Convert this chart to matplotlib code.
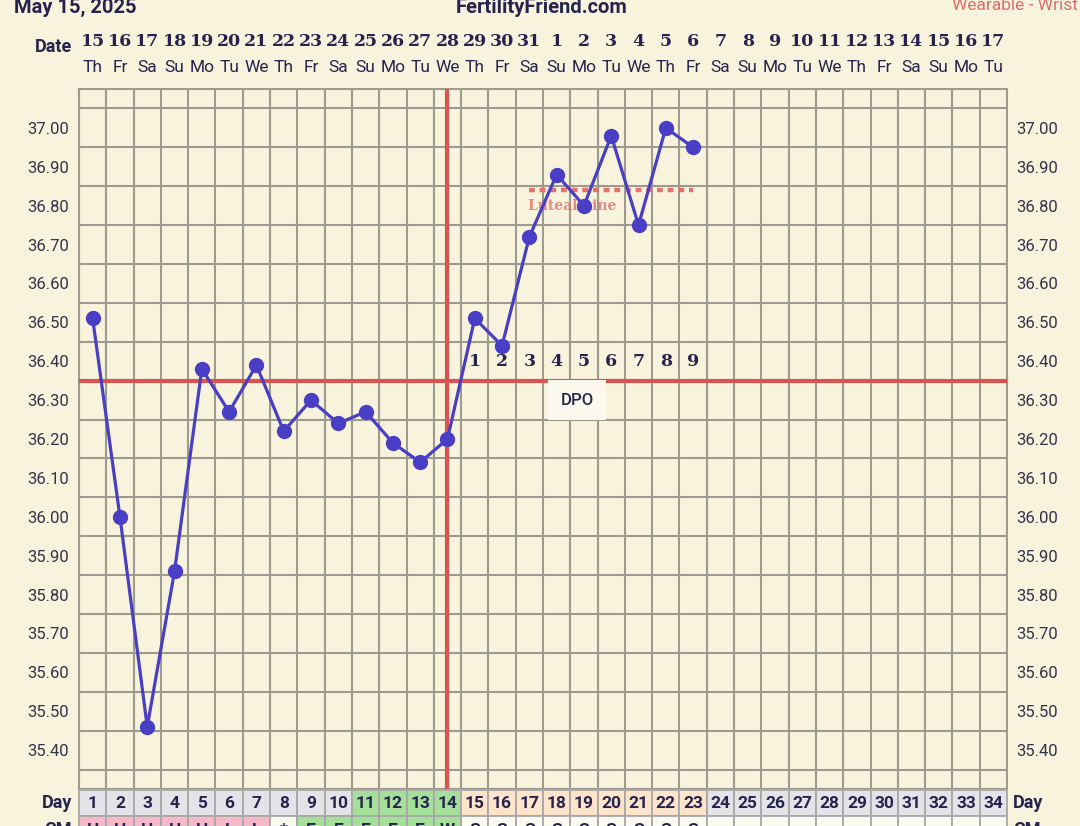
import numpy as np
import matplotlib.pyplot as plt
from matplotlib.transforms import blended_transform_factory
from matplotlib.patches import Rectangle

# chart data
cycle_days = list(range(1, 35))
dates = [15, 16, 17, 18, 19, 20, 21, 22, 23, 24, 25, 26, 27, 28, 29, 30, 31,
         1, 2, 3, 4, 5, 6, 7, 8, 9, 10, 11, 12, 13, 14, 15, 16, 17]
weekdays = ['Th', 'Fr', 'Sa', 'Su', 'Mo', 'Tu', 'We', 'Th', 'Fr', 'Sa', 'Su', 'Mo',
            'Tu', 'We', 'Th', 'Fr', 'Sa', 'Su', 'Mo', 'Tu', 'We', 'Th', 'Fr', 'Sa',
            'Su', 'Mo', 'Tu', 'We', 'Th', 'Fr', 'Sa', 'Su', 'Mo', 'Tu']
temps = [36.51, 36.00, 35.46, 35.86, 36.38, 36.27, 36.39, 36.22, 36.30, 36.24,
         36.27, 36.19, 36.14, 36.20, 36.51, 36.44, 36.72, 36.88, 36.80, 36.98,
         36.75, 37.00, 36.95]
cm_codes = ['H', 'H', 'H', 'H', 'H', 'L', 'L', '*', 'E', 'E', 'E', 'E', 'E', 'W',
            'S', 'S', 'S', 'S', 'S', 'S', 'S', 'S', 'S']
fertile_days = [11, 12, 13, 14]
ovulation_day = 14
coverline = 36.35
luteal_level = 36.84
luteal_start, luteal_end = 17, 23
ytick_vals = [35.40, 35.50, 35.60, 35.70, 35.80, 35.90, 36.00, 36.10, 36.20,
              36.30, 36.40, 36.50, 36.60, 36.70, 36.80, 36.90, 37.00]

W, H = 1080, 826
bg = '#f8f3dc'
navy = '#26244f'
red = '#d9534f'
grid_c = '#9c9b8e'
col_px = 928 / 34

fig = plt.figure(figsize=(W / 100, H / 100), dpi=100, facecolor=bg)

ax = fig.add_axes([79 / W, (H - 789) / H, 928 / W, 700 / H])
ax.set_facecolor(bg)
ax.set_xlim(0.5, 34.5)
ax.set_ylim(35.30, 37.10)
ax.set_xticks(np.arange(0.5, 35, 1), minor=True)
ax.set_xticks([])
ax.set_yticks(ytick_vals)
ax.set_yticklabels(['%.2f' % v for v in ytick_vals])
ax.set_yticks(np.arange(35.30, 37.11, 0.05), minor=True)
ax.grid(which='minor', color=grid_c, linewidth=1.5)
ax.tick_params(which='both', length=0, labelleft=True, labelright=True,
               labelsize=12, labelcolor='#33334a', pad=7)
for lab in ax.get_yticklabels():
    lab.set_fontfamily('Roboto')
for s in ax.spines.values():
    s.set_color(grid_c)
    s.set_linewidth(1.5)

# coverline and ovulation line
ax.axhline(coverline, color=red, lw=3, zorder=3)
ax.axvline(ovulation_day, color=red, lw=3, zorder=3)

# luteal line
ax.plot([luteal_start, luteal_end], [luteal_level, luteal_level], color='#e8706c',
        lw=3.2, ls=(0, (1.3, 1.1)), zorder=3)
ax.text(luteal_start - 0.05, 36.80, 'Luteal Line', color='#e87470', alpha=0.85,
        fontsize=10, fontweight='bold', family='DejaVu Serif', va='center', ha='left',
        zorder=3)

# temperatures
ax.plot(cycle_days[:len(temps)], temps, color='#4a3ec6', lw=2.3, marker='o',
        markersize=10, zorder=5)

# DPO numbers
for i, d in enumerate(range(ovulation_day + 1, len(temps) + 1)):
    ax.text(d, 36.40, str(i + 1), ha='center', va='center', fontsize=12.5,
            fontweight='heavy', family='DejaVu Serif', color=navy, zorder=4)
ax.text(18.75, 36.30, 'DPO', ha='center', va='center', fontsize=12,
        family='Roboto', fontweight='medium', color=navy, zorder=4,
        bbox=dict(boxstyle='square,pad=0.75', fc='#fbf9ee', ec='none'))

# date header
tr = blended_transform_factory(ax.transData, ax.transAxes)
for d, dt, wd in zip(cycle_days, dates, weekdays):
    ax.text(d, 1 + 47 / 700, str(dt), transform=tr, ha='center', va='center',
            fontsize=12.5, fontweight='heavy', family='DejaVu Serif', color=navy,
            clip_on=False)
    ax.text(d, 1 + 21 / 700, wd, transform=tr, ha='center', va='center',
            fontsize=12.5, family='Roboto', color=navy, clip_on=False)
ax.text(0.5 + (72 - 79) / col_px, 1 + 42 / 700, 'Date', transform=tr,
        ha='right', va='center', fontsize=13, fontweight='bold', family='Roboto',
        color=navy, clip_on=False)

# bottom table: Day row and CM row
bx = fig.add_axes([79 / W, (H - 842) / H, 928 / W, 52 / H])
bx.set_xlim(0.5, 34.5)
bx.set_ylim(2, 0)
bx.axis('off')
for d in cycle_days:
    if d in fertile_days:
        c = '#a5e09a'
    elif ovulation_day < d <= len(temps):
        c = '#fde4cb'
    else:
        c = '#e4e3e8'
    bx.add_patch(Rectangle((d - 0.5, 0), 1, 1, fc=c, ec='#a8a8a8', lw=1.3,
                           clip_on=False))
    bx.text(d, 0.5, str(d), ha='center', va='center', fontsize=12.5,
            fontweight='bold', family='Roboto', color=navy, clip_on=False)
    if d <= len(cm_codes):
        code = cm_codes[d - 1]
    else:
        code = ''
    if code in ('H', 'L'):
        c2 = '#f7b9c9'
    elif code in ('E', 'W'):
        c2 = '#a5e09a'
    else:
        c2 = '#fbfaf1'
    bx.add_patch(Rectangle((d - 0.5, 1), 1, 1, fc=c2, ec='#a8a8a8', lw=1.3,
                           clip_on=False))
    bx.text(d, 1.55, code, ha='center', va='center', fontsize=12.5,
            fontweight='bold', family='Roboto', color=navy, clip_on=False)
for x, ha in [(0.5 + (72 - 79) / col_px, 'right'), (0.5 + (1013 - 79) / col_px, 'left')]:
    bx.text(x, 0.5, 'Day', ha=ha, va='center', fontsize=13, fontweight='bold',
            family='Roboto', color=navy, clip_on=False)
    bx.text(x, 1.55, 'CM', ha=ha, va='center', fontsize=13, fontweight='bold',
            family='Roboto', color=navy, clip_on=False)

# header text
fig.text(14 / W, 1 - 13 / H, 'May 15, 2025', ha='left', va='baseline', fontsize=14.5,
         fontweight='bold', family='Roboto', color=navy)
fig.text(542 / W, 1 - 13 / H, 'FertilityFriend.com', ha='center', va='baseline',
         fontsize=14.5, fontweight='bold', family='Roboto', color=navy)
fig.text(1078 / W, 1 - 10 / H, 'Wearable - Wrist', ha='right', va='baseline',
         fontsize=12.5, family='Roboto', color='#e06c6c')

fig.savefig('out.png', dpi=100, facecolor=bg)
